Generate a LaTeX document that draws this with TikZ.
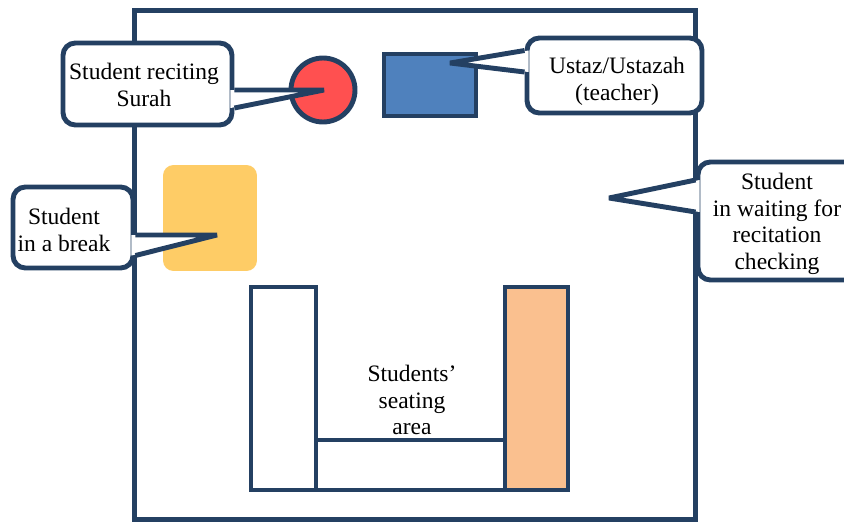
\documentclass[tikz,border=0pt]{standalone}
\usepackage{fontspec}
\setmainfont{Liberation Serif}
\usetikzlibrary{calc}

\definecolor{wallblue}{RGB}{36,64,98}
\definecolor{reciter}{RGB}{255,80,80}
\definecolor{teacher}{RGB}{79,129,189}
\definecolor{resting}{RGB}{254,204,102}
\definecolor{bench}{RGB}{250,192,143}

\tikzset{
  plan/.style={line width=2.8pt, draw=wallblue},
  bubble/.style={plan, fill=white, rounded corners=7pt, inner sep=0pt},
  tail/.style={plan, line join=bevel},
  saying/.style={font=\rmfamily\fontsize{13.4}{15.2}\selectfont, align=center, inner sep=0pt},
}

\begin{document}
\begin{tikzpicture}[x=0.02cm, y=-0.02cm]
    \useasboundingbox (0,0) rectangle (844,524);
    \clip (0,0) rectangle (844,524);

    % the room
    \node[plan, minimum width=11.24cm, minimum height=10.2cm] (room) at (415,265) {};

    % the benches of the seating area
    \node[plan, minimum width=1.3cm, minimum height=4.06cm] (leftbench) at (283.5,388.5) {};
    \node[plan, minimum width=3.78cm, minimum height=1cm] (backbench) at (410.5,465) {};
    \node[plan, fill=bench, minimum width=1.26cm, minimum height=4.06cm] (rightbench) at (536.5,388.5) {};
    \node[saying] (seating) at (412,400) {Students’\\seating\\area};

    % the people
    \node[plan, circle, fill=reciter, minimum size=1.28cm] (reciter) at (323,90) {};
    \node[plan, fill=teacher, minimum width=1.84cm, minimum height=1.24cm] (teacher) at (430,85) {};
    \node[fill=resting, rounded corners=6pt, minimum width=1.88cm, minimum height=2.12cm] (resting) at (210,218) {};

    % callout for the reciting student
    \node[bubble, minimum width=3.38cm, minimum height=1.64cm] (recitebox) at (147.5,84) {};
    \coordinate (recitetip) at (324,90);
    \fill[white] ($(recitebox.east)+(-4,6)$) -- (recitetip) -- ($(recitebox.east)+(-4,24)$) -- cycle;
    \draw[tail] ($(recitebox.east)+(0,6)$) -- (recitetip) -- ($(recitebox.east)+(0,24)$);
    \node[saying] (recitetext) at (144,85) {Student reciting\\Surah};

    % callout for the teacher
    \node[bubble, minimum width=3.5cm, minimum height=1.5cm] (teacherbox) at (614.5,75.5) {};
    \coordinate (teachertip) at (450,63);
    \fill[white] ($(teacherbox.west)+(4,-25)$) -- (teachertip) -- ($(teacherbox.west)+(4,-3.5)$) -- cycle;
    \draw[tail] ($(teacherbox.west)+(0,-25)$) -- (teachertip) -- ($(teacherbox.west)+(0,-3.5)$);
    \node[saying] (teachertext) at (617,81.5) {Ustaz/Ustazah\\(teacher)};

    % callout for the student in a break
    \node[bubble, minimum width=2.4cm, minimum height=1.62cm] (breakbox) at (73,227.5) {};
    \coordinate (breaktip) at (217,235);
    \fill[white] ($(breakbox.east)+(-4,7.5)$) -- (breaktip) -- ($(breakbox.east)+(-4,28)$) -- cycle;
    \draw[tail] ($(breakbox.east)+(0,7.5)$) -- (breaktip) -- ($(breakbox.east)+(0,28)$);
    \node[saying] (breaktext) at (64,230) {Student\\in a break};

    % callout for the waiting student
    \node[bubble, minimum width=3.44cm, minimum height=2.36cm] (waitbox) at (784,221) {};
    \coordinate (waittip) at (609,198);
    \fill[white] ($(waitbox.west)+(4,-41)$) -- (waittip) -- ($(waitbox.west)+(4,-9)$) -- cycle;
    \draw[tail] ($(waitbox.west)+(0,-41)$) -- (waittip) -- ($(waitbox.west)+(0,-9)$);
    \node[saying] (waittext) at (777,224) {Student\\in waiting for\\recitation\\checking};
\end{tikzpicture}
\end{document}
